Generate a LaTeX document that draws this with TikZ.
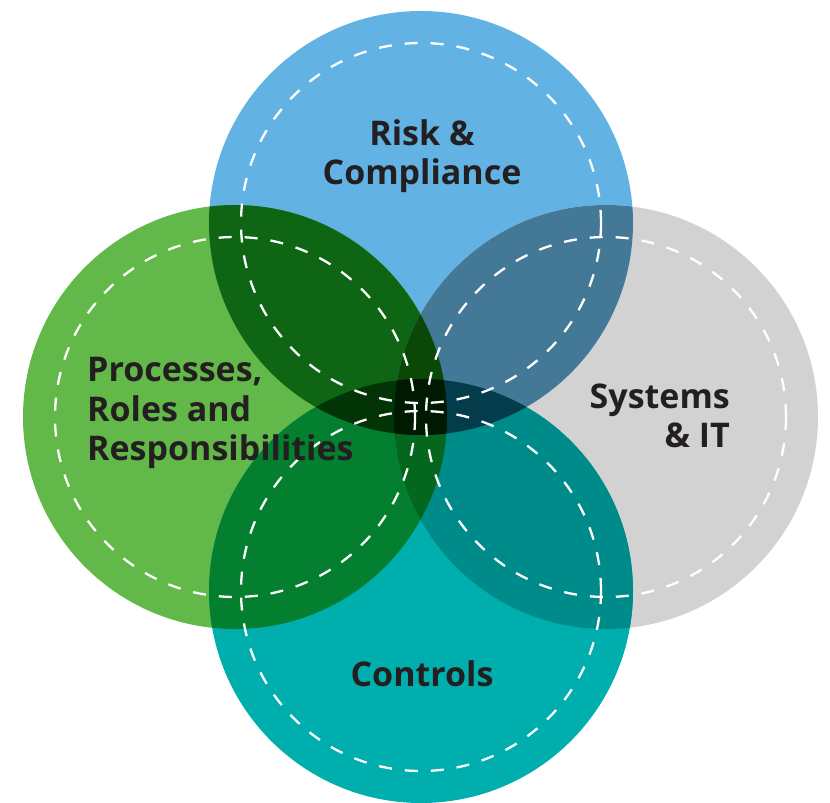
\documentclass[tikz,border=0pt]{standalone}
\usepackage{fontspec}
\setmainfont{Open Sans}
\usetikzlibrary{positioning}

\definecolor{riskblue}{HTML}{62B3E4}
\definecolor{procgreen}{HTML}{62B849}
\definecolor{sysgrey}{HTML}{D2D2D2}
\definecolor{ctrlteal}{HTML}{00AEAE}
\definecolor{riskproc}{HTML}{0E6614}
\definecolor{risksys}{HTML}{437996}
\definecolor{ctrlproc}{HTML}{037F2F}
\definecolor{ctrlsys}{HTML}{008B8B}
\definecolor{riskprocsys}{HTML}{0B4808}
\definecolor{ctrlprocsys}{HTML}{04671D}
\definecolor{riskctrlproc}{HTML}{033405}
\definecolor{riskctrlsys}{HTML}{043C4C}
\definecolor{allfour}{HTML}{001A02}
\definecolor{labeltext}{HTML}{231F20}

\begin{document}
\begin{tikzpicture}[x=1pt, y=-1pt,
    ring/.style={draw=white, line width=2.3pt, dash pattern=on 13pt off 13pt},
    venntext/.style={font=\bfseries\fontsize{34}{39.5}\selectfont, text=labeltext, inner sep=0pt}]
  \useasboundingbox (0,0) rectangle (830,803);

  \coordinate (risk) at (421,223);
  \coordinate (proc) at (235,417);
  \coordinate (sys) at (606,417);
  \coordinate (ctrl) at (421,591);

  % the four circles
  \fill[riskblue] (risk) circle[radius=212];
  \fill[procgreen] (proc) circle[radius=212];
  \fill[sysgrey] (sys) circle[radius=212];
  \fill[ctrlteal] (ctrl) circle[radius=212];

  % two at a time
  \begin{scope}
    \clip (risk) circle[radius=212];
    \fill[riskproc] (proc) circle[radius=212];
    \fill[risksys] (sys) circle[radius=212];
  \end{scope}
  \begin{scope}
    \clip (ctrl) circle[radius=212];
    \fill[ctrlproc] (proc) circle[radius=212];
    \fill[ctrlsys] (sys) circle[radius=212];
  \end{scope}

  % three at a time
  \begin{scope}
    \clip (proc) circle[radius=212];
    \clip (sys) circle[radius=212];
    \fill[riskprocsys] (risk) circle[radius=212];
    \fill[ctrlprocsys] (ctrl) circle[radius=212];
  \end{scope}
  \begin{scope}
    \clip (risk) circle[radius=212];
    \clip (ctrl) circle[radius=212];
    \fill[riskctrlproc] (proc) circle[radius=212];
    \fill[riskctrlsys] (sys) circle[radius=212];
    \clip (proc) circle[radius=212];
    \fill[allfour] (sys) circle[radius=212];
  \end{scope}

  % dashed rings
  \draw[ring] (risk) circle[radius=180];
  \draw[ring] (proc) circle[radius=180];
  \draw[ring] (sys) circle[radius=180];
  \draw[ring] (ctrl) circle[radius=180];

  \node[venntext, align=center] (risklabel) at (422,156) {Risk \&\\Compliance};
  \node[venntext, align=left, anchor=west] (proclabel) at (87,413) {Processes,\\Roles and\\Responsibilities};
  \node[venntext, align=right, anchor=east] (syslabel) at (730,416) {Systems\\\& IT};
  \node[venntext, anchor=base] (ctrllabel) at (422,686) {Controls};
\end{tikzpicture}
\end{document}
